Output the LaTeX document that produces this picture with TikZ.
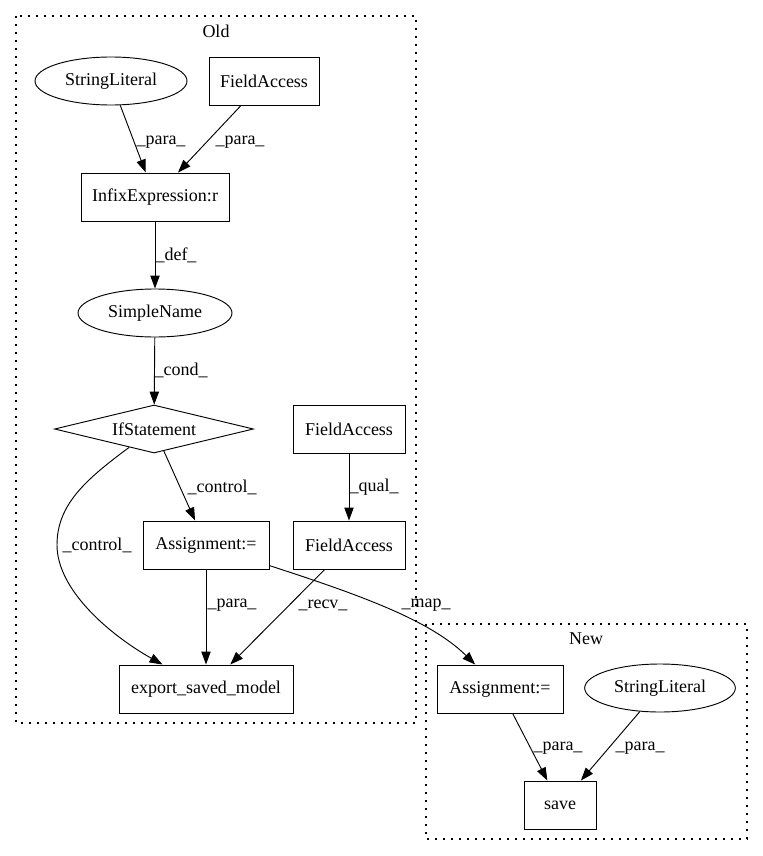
\documentclass[tikz,border=0pt]{standalone}
\usepackage{fontspec}
\setmainfont{Liberation Serif}
\usetikzlibrary{shapes.geometric,arrows.meta}
\begin{document}
\begin{tikzpicture}[x=0.75pt,y=-0.75pt,
 every node/.style={font=\fontsize{13.5}{15}\selectfont, inner sep=0pt},
 box/.style={draw, rectangle, minimum height=36pt, line width=0.7pt},
 ell/.style={draw, ellipse, minimum height=36pt, line width=0.7pt},
 dia/.style={draw, diamond, aspect=4.15, minimum width=149.25pt, minimum height=36pt, line width=0.7pt},
 edge/.style={draw, line width=0.7pt, -{Triangle[length=9.75pt,width=7pt]}},
 cluster/.style={draw, dash pattern=on 1.2pt off 4.8pt, line width=1pt}]
\useasboundingbox (0,0) rectangle (763,856);
% clusters
\draw[cluster] (16,16) rectangle (416,723);
\node (oldlbl) at (216,31) {Old};
\draw[cluster] (426,624) rectangle (747,839);
\node (newlbl) at (586,639) {New};
% nodes
\node[ell, minimum width=114pt] (sl1) at (111,81) {StringLiteral};
\node[box, minimum width=82.5pt] (fa1) at (264,81) {FieldAccess};
\node[box, minimum width=111pt] (infix) at (155,197) {InfixExpression:r};
\node[ell, minimum width=115.5pt] (sn) at (155,313) {SimpleName};
\node[dia] (ifst) at (154,429) {IfStatement};
\node[box, minimum width=84pt] (fa2) at (349,429) {FieldAccess};
\node[box, minimum width=94.5pt] (asg) at (206,545) {Assignment:=};
\node[box, minimum width=84pt] (fa3) at (349,545) {FieldAccess};
\node[box, minimum width=130.5pt] (esm) at (206,689) {export\_saved\_model};
\node[box, minimum width=94.5pt] (asgn) at (500,689) {Assignment:=};
\node[ell, minimum width=113pt] (sl2) at (660,688) {StringLiteral};
\node[box, minimum width=54pt] (save) at (560,805) {save};
% edges
\draw[edge] (sl1) -- (infix);
\draw[edge] (fa1) -- (infix);
\draw[edge] (infix) -- (sn);
\draw[edge] (sn) -- (ifst);
\draw[edge] (ifst) -- (asg);
\draw[edge] (ifst) .. controls (85,480) and (57,505) .. (57,545) .. controls (57,590) and (110,635) .. (esm);
\draw[edge] (fa2) -- (fa3);
\draw[edge] (asg) -- (esm);
\draw[edge] (fa3) -- (esm);
\draw[edge] (asg) .. controls (360,595) and (430,620) .. (asgn);
\draw[edge] (asgn) -- (save);
\draw[edge] (sl2) -- (save);
% labels
\node (l1) at (161,142) {\_para\_};
\node (l2) at (240,142) {\_para\_};
\node (l3) at (176,255) {\_def\_};
\node (l4) at (181,370) {\_cond\_};
\node (l5) at (222,487) {\_control\_};
\node (l6) at (374,487) {\_qual\_};
\node (l7) at (97,545) {\_control\_};
\node (l8) at (232,605) {\_para\_};
\node (l9) at (323,605) {\_recv\_};
\node (l10) at (426,605) {\_map\_};
\node (l11) at (558,748) {\_para\_};
\node (l12) at (640,748) {\_para\_};
\end{tikzpicture}
\end{document}
